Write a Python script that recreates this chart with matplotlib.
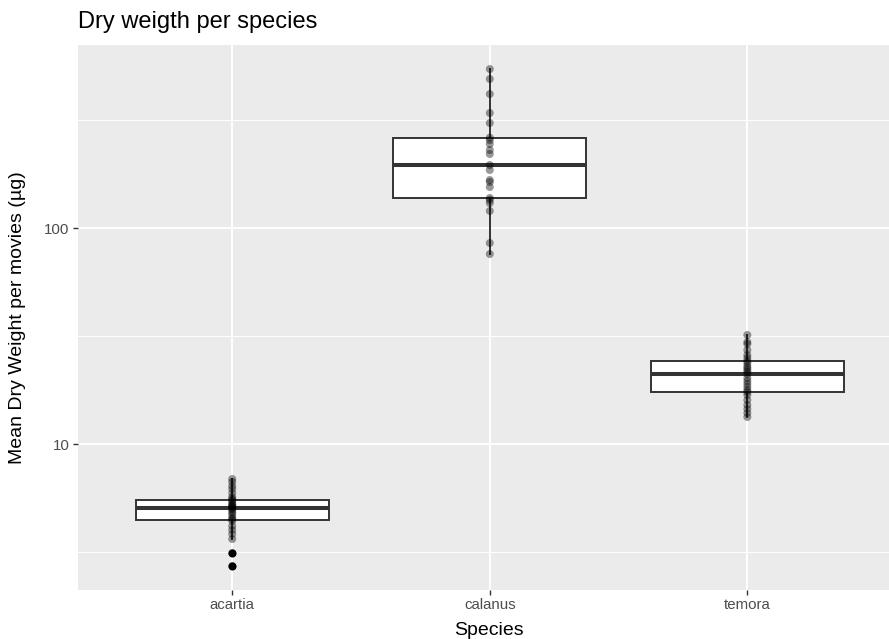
import numpy as np
import matplotlib
matplotlib.use("Agg")
import matplotlib.pyplot as plt
from matplotlib.ticker import FixedLocator, NullFormatter

plt.rcParams['font.family'] = ['Liberation Sans', 'DejaVu Sans']

# ---- data (µg) ----
categories = ["acartia", "calanus", "temora"]
acartia = [6.887, 6.670, 6.392, 6.191, 5.931, 5.683, 5.563, 5.503, 5.388, 5.274,
           5.218, 5.163, 5.109, 5.055, 5.001, 4.896, 4.793, 4.692, 4.544, 4.496,
           4.401, 4.172, 3.998, 3.831, 3.633, 3.129, 2.724]
calanus = [544.6, 489.6, 417.3, 340.8, 306.3, 262.0, 255.0, 244.8, 229.7, 220.1,
           195.7, 185.6, 166.8, 163.3, 154.8, 137.7, 134.8, 130.5, 119.9, 85.2, 75.8]
temora = [31.96, 29.66, 29.04, 27.24, 25.82, 25.01, 24.23, 23.71, 22.97, 22.48,
          22.01, 21.54, 21.09, 20.21, 19.57, 18.96, 18.36, 17.78, 17.40, 16.86,
          15.98, 15.16, 14.52, 13.91, 13.34]
series = [acartia, calanus, temora]
y_major = [10, 100]
y_major_labels = ["10", "100"]
y_minor = [10 ** 0.5, 10 ** 1.5, 10 ** 2.5]


def log_box_stats(vals):
    lv = np.log10(np.asarray(vals, dtype=float))
    q1, med, q3 = np.percentile(lv, [25, 50, 75])
    iqr = q3 - q1
    lo_f, hi_f = q1 - 1.5 * iqr, q3 + 1.5 * iqr
    inside = lv[(lv >= lo_f) & (lv <= hi_f)]
    fl = lv[(lv < lo_f) | (lv > hi_f)]
    return dict(med=10 ** med, q1=10 ** q1, q3=10 ** q3,
                whislo=10 ** inside.min(), whishi=10 ** inside.max(),
                fliers=10 ** fl)


W, H = 889, 639
fig = plt.figure(figsize=(W / 100, H / 100), dpi=100)
ax = fig.add_axes([77.7 / W, 1 - 590 / H, 1 - 77.7 / W, (590 - 45) / H])
ax.set_facecolor("#EBEBEB")
for s in ax.spines.values():
    s.set_visible(False)

ax.set_yscale("log")
ax.set_ylim(2.109, 703.6)
ax.set_xlim(0.4, 3.55)

positions = np.arange(1, len(categories) + 1)
stats = [log_box_stats(v) for v in series]
ax.bxp(stats, positions=positions, widths=0.75, showcaps=False,
       patch_artist=True,
       boxprops=dict(facecolor="white", edgecolor="#333333", linewidth=1.4),
       medianprops=dict(color="#333333", linewidth=2.9, solid_capstyle="butt"),
       whiskerprops=dict(color="#333333", linewidth=1.4),
       flierprops=dict(marker="o", markerfacecolor="black", markeredgecolor="none",
                       markersize=5.8),
       zorder=3)

for p, vals in zip(positions, series):
    ax.scatter(np.full(len(vals), p), vals, s=33, color="black", alpha=0.4,
               edgecolors="none", zorder=4)

ax.yaxis.set_major_locator(FixedLocator(y_major))
ax.set_yticklabels(y_major_labels)
ax.yaxis.set_minor_locator(FixedLocator(y_minor))
ax.yaxis.set_minor_formatter(NullFormatter())
ax.set_xticks(positions)
ax.set_xticklabels(categories)

ax.grid(True, which="major", color="white", linewidth=1.4)
ax.grid(True, which="minor", axis="y", color="white", linewidth=0.7)
ax.set_axisbelow(True)

ax.tick_params(axis="both", which="major", length=3.5, width=1.0, color="#333333",
               labelcolor="#4D4D4D", labelsize=10.8, pad=2.5)
ax.tick_params(axis="y", which="minor", length=0)

fig.text(77.7 / W, 1 - 28 / H, "Dry weigth per species", fontsize=17,
         ha="left", va="baseline", color="black")
fig.text(489 / W, 1 - 635 / H, "Species", fontsize=14, ha="center",
         va="baseline", color="black")
fig.text(18 / W, 1 - 317.5 / H, "Mean Dry Weight per movies (µg)", fontsize=14,
         rotation=90, ha="center", va="center", color="black")

fig.savefig("out.png", dpi=100)
